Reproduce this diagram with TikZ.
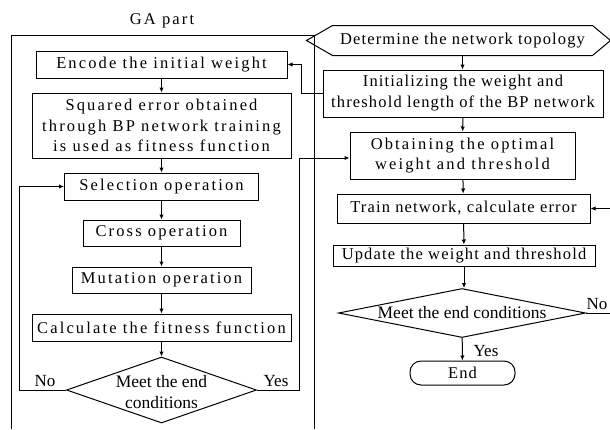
\documentclass[tikz,border=0pt]{standalone}
\usepackage{fontspec}
\setmainfont{Liberation Serif}
\usetikzlibrary{arrows.meta,shapes.geometric}

% letter-spaced text sizes used in the boxes
\newcommand{\widetext}{\fontsize{16.5}{20.5}\selectfont\addfontfeature{LetterSpace=13}}
\newcommand{\midtext}{\fontsize{16.5}{21}\selectfont\addfontfeature{LetterSpace=7}}

\begin{document}
\begin{tikzpicture}[x=1pt, y=-1pt, line width=1pt,
  widebox/.style={draw, rectangle, inner sep=0pt, align=center, font=\widetext},
  midbox/.style={draw, rectangle, inner sep=0pt, align=center, font=\midtext},
  decision/.style={draw, diamond, inner sep=0pt},
  dtext/.style={inner sep=0pt, align=center, font=\fontsize{17.5}{21.5}\selectfont},
  lbl/.style={inner sep=0pt, font=\fontsize{17}{20}\selectfont},
  arr/.style={-{Latex[length=5pt,width=4.5pt]}}]

% page background and size
\fill[white] (0,0) rectangle (610,429);
\useasboundingbox (0,0) rectangle (610,429);

% ---------- GA part (left) ----------
\node[inner sep=0pt, font=\widetext] (title) at (162,21) {GA part};
\draw (11,429) |- (314,35) -- (314,429);

\node[widebox, minimum width=251pt, minimum height=27pt] (encode) at (161.5,64.5) {Encode the initial weight};
\node[widebox, minimum width=259pt, minimum height=65pt] (squared) at (161.5,125.5)
  {Squared error obtained\\through BP network training\\is used as fitness function};
\node[widebox, minimum width=194pt, minimum height=27pt] (select) at (161.5,186.5) {Selection operation};
\node[widebox, minimum width=157pt, minimum height=26pt] (cross) at (161.5,233) {Cross operation};
\node[widebox, minimum width=179pt, minimum height=26pt] (mutate) at (161.5,280) {Mutation operation};
\node[widebox, minimum width=259pt, minimum height=27pt] (calc) at (161.5,327.5) {Calculate the fitness function};
\node[decision, minimum width=190pt, minimum height=66pt] (d1) at (161.5,390) {};
\node[dtext] (d1text) at (161.5,392) {Meet the end\\conditions};

\draw[arr] (encode) -- (squared);
\draw[arr] (squared) -- (select);
\draw[arr] (select) -- (cross);
\draw[arr] (cross) -- (mutate);
\draw[arr] (mutate) -- (calc);
\draw[arr] (calc) -- (d1);

% ---------- BP part (right) ----------
\node[inner sep=0pt, minimum width=259pt, minimum height=29pt, font=\midtext] (topo) at (462.5,40.5)
  {Determine the network topology};
\draw (topo.north west) -- (topo.north east) -- ([xshift=18pt]topo.east) -- (topo.south east)
  -- (topo.south west) -- ([xshift=-26pt]topo.west) -- cycle;

\node[midbox, minimum width=280pt, minimum height=47pt] (init) at (463,93.5)
  {Initializing the weight and\\threshold length of the BP network};
\node[widebox, minimum width=225pt, minimum height=47pt] (obtain) at (462.5,155.5)
  {Obtaining the optimal\\weight and threshold};
\node[midbox, minimum width=253pt, minimum height=29pt] (train) at (463.5,208.5) {Train network, calculate error};
\node[midbox, minimum width=262pt, minimum height=21pt] (update) at (464,255.5) {Update the weight and threshold};
\node[decision, minimum width=247pt, minimum height=49pt] (d2) at (462,313) {};
\node[dtext] (d2text) at (462,313) {Meet the end conditions};
\node[draw, rounded corners=11pt, minimum width=105pt, minimum height=24pt, inner sep=0pt,
  font=\midtext] (end) at (462.5,373) {End};

\draw[arr] (topo.south) -- (init.north -| topo.south);
\draw[arr] (init) -- (obtain);
\draw[arr] (obtain) -- (train);
\draw[arr] (train) -- (update);
\draw[arr] (update) -- (d2.north -| update.south);
\draw[arr] (d2) -- (end);

% ---------- cross connections and loops ----------
\draw[arr] (init.west) -| ([xshift=14pt]encode.east) -- (encode.east);
\draw[arr] (d1.west) -| ([xshift=-44.5pt]select.west) -- (select.west);
\draw[arr] (d1.east) -| ([xshift=-50pt,yshift=-2.5pt]obtain.west) -- ([yshift=-2.5pt]obtain.west);
\draw[arr] (d2.east) -| ([xshift=21pt]train.east) -- (train.east);

% ---------- labels ----------
\node[lbl] (no1) at (45,381) {No};
\node[lbl] (yes1) at (276,381) {Yes};
\node[lbl] (no2) at (597,304) {No};
\node[lbl] (yes2) at (486,351) {Yes};
\end{tikzpicture}
\end{document}
